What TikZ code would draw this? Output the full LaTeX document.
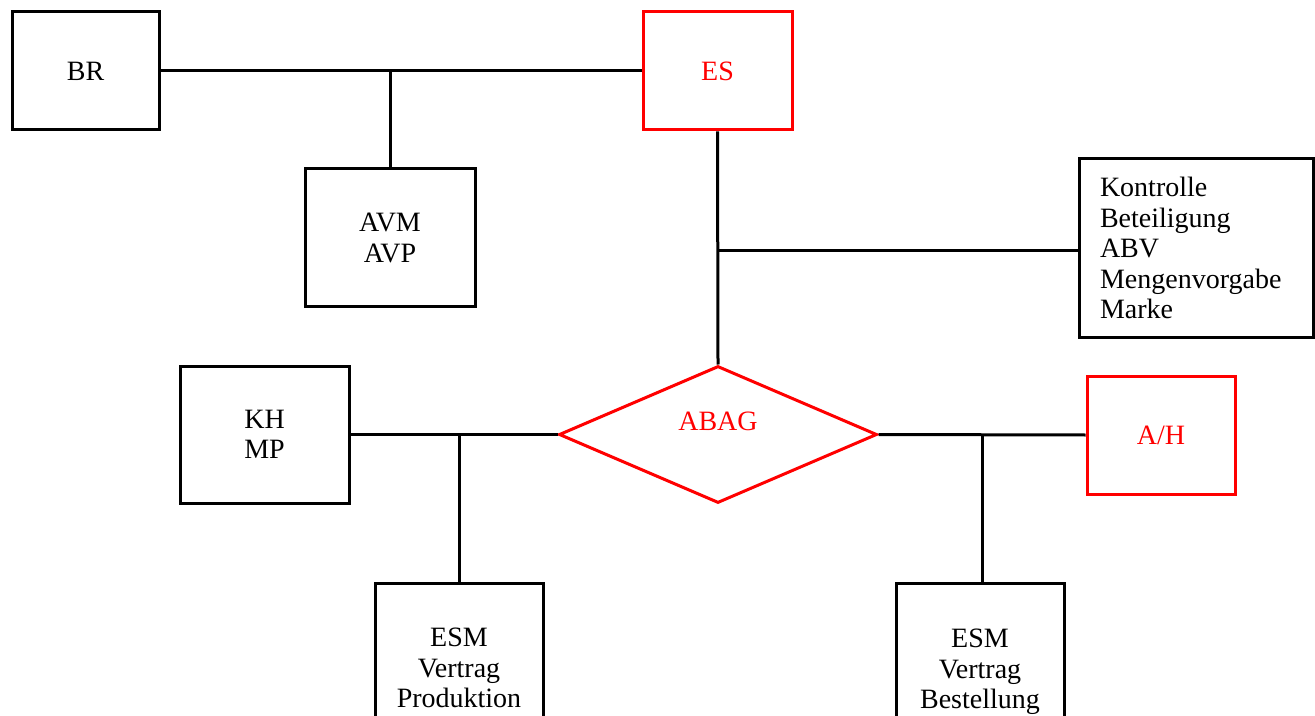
\documentclass[tikz,border=0pt]{standalone}
\usepackage{fontspec}
\setmainfont{Liberation Serif}
\usetikzlibrary{shapes.geometric}
\begin{document}
\begin{tikzpicture}[x=0.5pt,y=-0.5pt,
  every node/.style={font=\fontsize{14}{15.25}\selectfont},
  box/.style={draw=black, line width=1.5pt, rectangle, inner sep=0pt, align=center},
  redbox/.style={draw=red, text=red, line width=1.5pt, rectangle, inner sep=0pt, align=center},
  conn/.style={draw=black, line width=1.5pt},
  lbl/.style={inner sep=0pt, align=center}
]
\useasboundingbox (0,0) rectangle (1315,716);
\clip (0,0) rectangle (1315,716);
\fill[white] (0,0) rectangle (1315,716);

\node[box, minimum width=73.5pt, minimum height=59pt] (br) at (85.5,71) {BR};
\node[redbox, minimum width=74.5pt, minimum height=59pt] (es) at (717.5,71) {ES};
\node[box, minimum width=85pt, minimum height=69pt] (avm) at (390,238) {AVM\\AVP};
\node[box, minimum width=117pt, minimum height=89pt, inner xsep=10.5pt, text width=96pt, align=left] (ctrl) at (1196,248)
  {Kontrolle\\Beteiligung\\ABV\\Mengenvorgabe\\Marke};
\node[box, minimum width=84.5pt, minimum height=68.5pt] (kh) at (264.5,434.5) {KH\\MP};
\node[draw=red, line width=1.5pt, diamond, inner sep=0pt, minimum width=159pt, minimum height=68.5pt] (abag) at (718,434.5) {};
\node[lbl, text=red] (abagtxt) at (718,421) {ABAG};
\node[redbox, minimum width=74pt, minimum height=59pt] (ah) at (1161,435) {A/H};
\node[box, minimum width=84pt, minimum height=85pt] (esm1) at (459,668) {ESM\\Vertrag\\Produktion};
\node[box, minimum width=84pt, minimum height=89pt] (esm2) at (980,672) {ESM\\Vertrag\\Bestellung};

\coordinate (j1) at (390,71);
\coordinate (j2) at (717.5,251);
\coordinate (j3) at (459,434.5);
\coordinate (j4) at (982,434.5);

\draw[conn] (br.east) -- (es.west);
\draw[conn] (j1) -- (avm.north);
\draw[conn] (es.south) -- (abag.north);
\draw[conn] (j2) -- (j2 -| ctrl.west);
\draw[conn] (kh.east) -- (abag.west);
\draw[conn] (j3) -- (esm1.north);
\draw[conn] (abag.east) -- (ah.west);
\draw[conn] (j4) -- (j4 |- esm2.north);
\end{tikzpicture}
\end{document}
